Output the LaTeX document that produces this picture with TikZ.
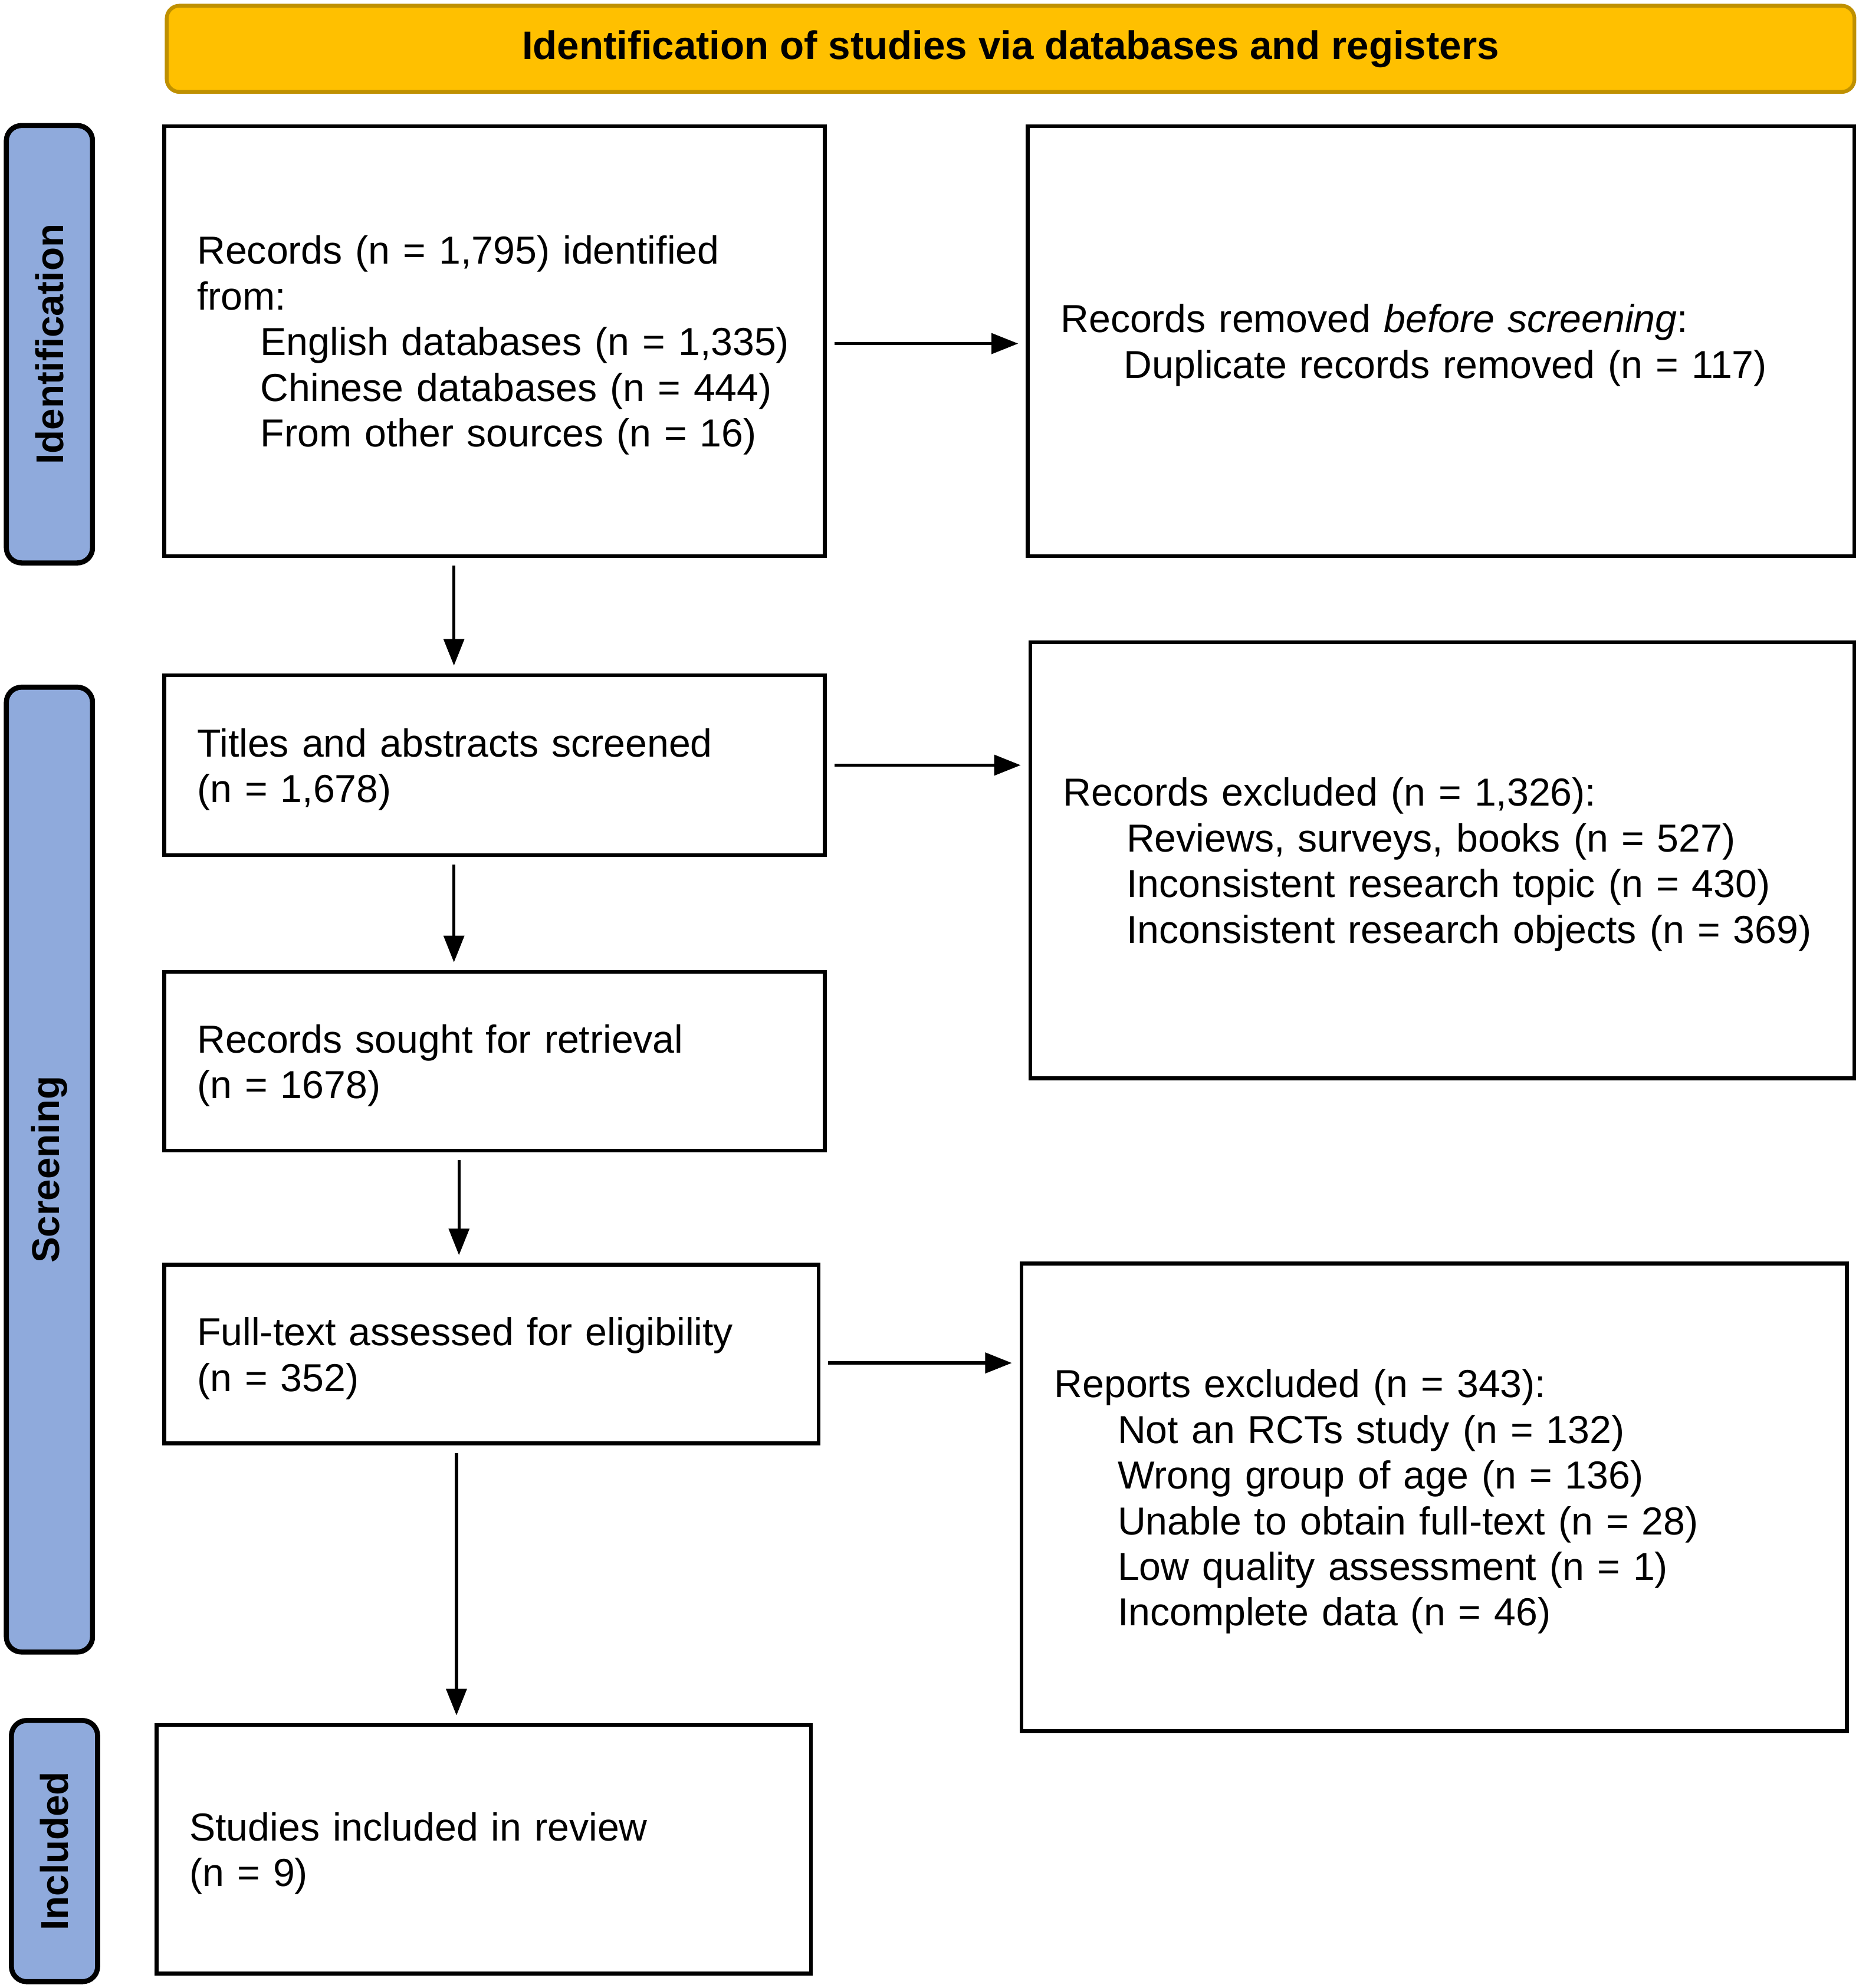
\documentclass[tikz,border=0pt]{standalone}
\usepackage{fontspec}
\setmainfont{Liberation Sans}
\usepackage{tikz}
\usetikzlibrary{arrows.meta, positioning, calc}
\definecolor{headyellow}{HTML}{FFC000}
\definecolor{headgold}{HTML}{BF9000}
\definecolor{sideblue}{HTML}{8FAADC}
\newcommand{\indnt}{\hspace*{50pt}}

\tikzset{
  box/.style={draw, line width=3pt, align=left, inner xsep=26pt, inner ysep=0pt,
    font=\fontsize{30.8}{36}\selectfont, execute at begin node={\rule{0pt}{29pt}}},
  side/.style={draw, line width=4pt, fill=sideblue, rounded corners=12pt, rotate=90,
    font=\fontsize{30.5}{36}\selectfont\bfseries},
  arr/.style={line width=2.5pt, -{Triangle[length=21pt,width=16pt]},
    shorten <=6pt, shorten >=6pt}
}

\begin{document}
\begin{tikzpicture}[x=1pt,y=-1pt]
\useasboundingbox (0,0) rectangle (1466,1568);

% header
\node[draw=headgold, line width=3pt, fill=headyellow, rounded corners=10pt,
  minimum width=1331pt, minimum height=68pt,
  font=\fontsize{31.3}{36}\selectfont\bfseries] (head) at (797,38.5)
  {Identification of studies via databases and registers};

% phases
\node[side, minimum width=345pt, minimum height=68pt] (ident) at (39,271.5) {Identification};
\node[side, minimum width=761pt, minimum height=68pt] (screen) at (39,922.5) {Screening};
\node[side, minimum width=206pt, minimum height=68pt] (incl) at (43,1460) {Included};

% boxes
\node[box, text width=469pt, minimum height=339pt] (rec) at (390,269)
  {Records (n = 1,795) identified\\from:\\
   \indnt English databases (n = 1,335)\\
   \indnt Chinese databases (n = 444)\\
   \indnt From other sources (n = 16)};
\node[box, text width=600pt, minimum height=339pt] (dup) at (1136.5,269)
  {Records removed \textit{before screening}:\\
   \indnt Duplicate records removed (n = 117)};
\node[box, text width=469pt, minimum height=142pt] (title) at (390,603.5)
  {Titles and abstracts screened\\(n = 1,678)};
\node[box, text width=598pt, minimum height=344pt] (recex) at (1137.5,678.5)
  {Records excluded (n = 1,326):\\
   \indnt Reviews, surveys, books (n = 527)\\
   \indnt Inconsistent research topic (n = 430)\\
   \indnt Inconsistent research objects (n = 369)};
\node[box, text width=469pt, minimum height=141pt] (sought) at (390,837)
  {Records sought for retrieval\\(n = 1678)};
\node[box, text width=464pt, minimum height=141pt] (full) at (387.5,1068)
  {Full-text assessed for eligibility\\(n = 352)};
\node[box, text width=599pt, minimum height=369pt] (repex) at (1131,1181)
  {Reports excluded (n = 343):\\
   \indnt Not an RCTs study (n = 132)\\
   \indnt Wrong group of age (n = 136)\\
   \indnt Unable to obtain full-text (n = 28)\\
   \indnt Low quality assessment (n = 1)\\
   \indnt Incomplete data (n = 46)};
\node[box, text width=464pt, minimum height=196pt] (study) at (381.5,1458.5)
  {Studies included in review\\(n = 9)};

% arrows
\draw[arr] ([yshift=-2pt]rec.east) -- ([yshift=-2pt]rec.east -| dup.west);
\draw[arr] ([xshift=-32pt]rec.south) -- ([xshift=-32pt]rec.south |- title.north);
\draw[arr] (title.east) -- (title.east -| recex.west);
\draw[arr] ([xshift=-32pt]title.south) -- ([xshift=-32pt]title.south |- sought.north);
\draw[arr] ([xshift=-28pt]sought.south) -- ([xshift=-28pt]sought.south |- full.north);
\draw[arr] ([yshift=-7pt]full.east) -- ([yshift=-7pt]full.east -| repex.west);
\draw[arr] ([xshift=-27.5pt]full.south) -- ([xshift=-27.5pt]full.south |- study.north);

\end{tikzpicture}
\end{document}
